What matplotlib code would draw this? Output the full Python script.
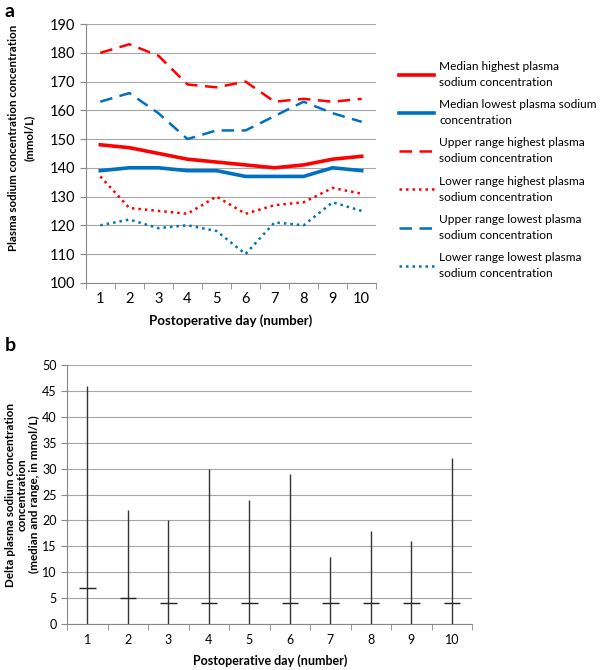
import numpy as np
import matplotlib.pyplot as plt

plt.rcParams['font.family'] = ['Lato', 'DejaVu Sans']

days = np.arange(1, 11)

median_high = [148, 147, 145, 143, 142, 141, 140, 141, 143, 144]
median_low = [139, 140, 140, 139, 139, 137, 137, 137, 140, 139]
upper_high = [180, 183, 179, 169, 168, 170, 163, 164, 163, 164]
lower_high = [137, 126, 125, 124, 130, 124, 127, 128, 133, 131]
upper_low = [163, 166, 159, 150, 153, 153, 158, 163, 159, 156]
lower_low = [120, 122, 119, 120, 118, 110, 121, 120, 128, 125]

delta_max = [46, 22, 20, 30, 24, 29, 13, 18, 16, 32]
delta_min = [0, 0, 0, 0, 0, 0, 0, 0, 0, 0]
delta_median = [7, 5, 4, 4, 4, 4, 4, 4, 4, 4]

RED = '#FF0000'
BLUE = '#0070C0'
GRID = '#A6A6A6'


def style_axes(ax):
    for s in ['top', 'right']:
        ax.spines[s].set_visible(False)
    for s in ['left', 'bottom']:
        ax.spines[s].set_color('#888888')
        ax.spines[s].set_linewidth(0.8)
    ax.yaxis.grid(True, color=GRID, linewidth=0.8)
    ax.set_axisbelow(True)
    ax.set_xlim(0.5, 10.5)
    ax.set_xticks(days)
    ax.set_xticks(np.arange(0.5, 11, 1), minor=True)
    ax.tick_params(axis='x', which='major', length=0, pad=7)
    ax.tick_params(axis='x', which='minor', length=4, color='#888888')
    ax.tick_params(axis='y', length=4, color='#888888')


fig = plt.figure(figsize=(6, 6.7), dpi=100)

# panel a
ax1 = fig.add_axes([0.143, 0.578, 0.484, 0.386])
ax1.plot(days, median_high, color=RED, lw=2.6, label='Median highest plasma\nsodium concentration')
ax1.plot(days, median_low, color=BLUE, lw=2.6, label='Median lowest plasma sodium\nconcentration')
ax1.plot(days, upper_high, color=RED, lw=1.8, dashes=(5, 3), label='Upper range highest plasma\nsodium concentration')
ax1.plot(days, lower_high, color=RED, lw=1.8, dashes=(1, 1.6), label='Lower range highest plasma\nsodium concentration')
ax1.plot(days, upper_low, color=BLUE, lw=1.8, dashes=(5, 3), label='Upper range lowest plasma\nsodium concentration')
ax1.plot(days, lower_low, color=BLUE, lw=1.8, dashes=(1, 1.6), label='Lower range lowest plasma\nsodium concentration')
style_axes(ax1)
ax1.set_ylim(100, 190)
ax1.set_yticks(np.arange(100, 191, 10))
ax1.tick_params(labelsize=10.5)
ax1.set_xlabel('Postoperative day (number)', fontsize=9.5, fontweight='bold', labelpad=6)
ax1.set_ylabel('Plasma sodium concentration concentration\n(mmol/L)', fontsize=8.3, fontweight='bold',
               linespacing=1.6)
ax1.yaxis.set_label_coords(-0.175, 0.56)
leg = ax1.legend(loc='upper left', bbox_to_anchor=(1.04, 0.9), frameon=False, fontsize=8.6,
                 handlelength=3, handletextpad=0.4, labelspacing=0.95)
for t in leg.get_texts():
    t.set_linespacing(1.55)
fig.text(0.008, 0.983, 'a', fontsize=14, fontweight='bold', va='center')

# panel b
ax2 = fig.add_axes([0.112, 0.0687, 0.675, 0.3863])
ax2.vlines(days, delta_min, delta_max, color='#333333', lw=1.0)
ax2.hlines(delta_median, days - 0.2, days + 0.2, color='#222222', lw=1.0)
style_axes(ax2)
ax2.set_ylim(0, 50)
ax2.set_yticks(np.arange(0, 51, 5))
ax2.tick_params(labelsize=9)
ax2.set_xlabel('Postoperative day (number)', fontsize=9, fontweight='bold', labelpad=6)
ax2.set_ylabel('Delta plasma sodium concentration\nconcentration\n(median and range, in mmol/L)',
               fontsize=8.4, fontweight='bold', linespacing=1.1)
ax2.yaxis.set_label_coords(-0.068, 0.5)
fig.text(0.008, 0.485, 'b', fontsize=14, fontweight='bold', va='center')

fig.savefig('out.png', dpi=100)
